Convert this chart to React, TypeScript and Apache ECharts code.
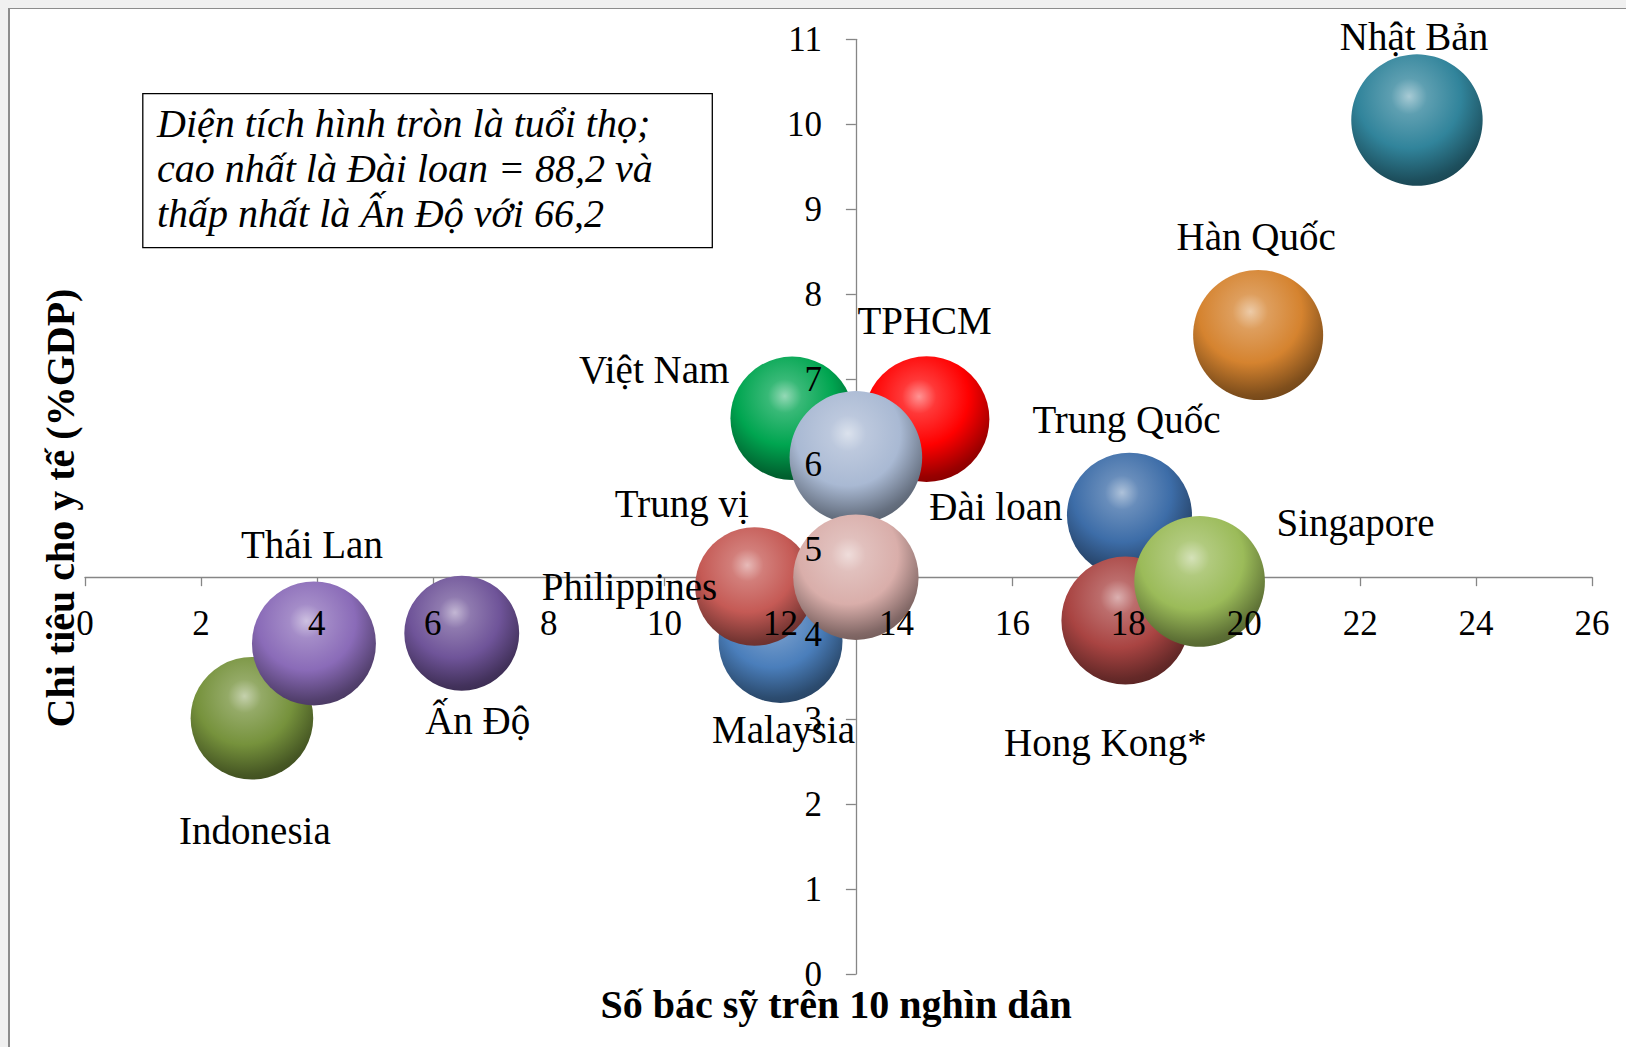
import { useEffect, useRef } from "react";
import * as echarts from "echarts";

// Health spending vs. doctor density; bubble area encodes life expectancy.
const countries = [
  "Indonesia",
  "Thái Lan",
  "Ấn Độ",
  "Malaysia",
  "Philippines",
  "Việt Nam",
  "TPHCM",
  "Đài loan",
  "Trung vị",
  "Trung Quốc",
  "Hong Kong*",
  "Singapore",
  "Hàn Quốc",
  "Nhật Bản",
];
// Doctors per 10,000 people
const doctorsPer10k = [2.88, 3.95, 6.5, 12.0, 11.55, 12.2, 14.52, 13.3, 13.3, 18.02, 17.95, 19.23, 20.24, 22.98];
// Health spending, % of GDP
const healthSpendPctGdp = [3.01, 3.89, 4.01, 3.92, 4.56, 6.54, 6.53, 6.08, 4.67, 5.4, 4.16, 4.62, 7.52, 10.05];
// Life expectancy (years) -> bubble area
const lifeExpectancy = [75.4, 77.1, 66.2, 77.1, 70.6, 76.4, 79.1, 88.2, 78.9, 78.4, 82.2, 85.6, 84.8, 86.6];

const baseColors = [
  "#76923c",
  "#8a6bb8",
  "#6f5499",
  "#4a7ebb",
  "#c55a55",
  "#00a550",
  "#ff0000",
  "#a9b9d3",
  "#d9aeaa",
  "#3d6da8",
  "#a94442",
  "#9bbb59",
  "#d5832f",
  "#31849b",
];

// Label placement relative to each bubble centre (px)
const labelOffsets = [
  [3, 112],
  [-2, -99],
  [16, 87],
  [3, 89],
  [-125, 0],
  [-138, -49],
  [-2, -99],
  [140, 49],
  [-174, -74],
  [-3, -96],
  [-20, 122],
  [156, -59],
  [-2, -99],
  [-3, -84],
];

const xTickMin = 0;
const xTickMax = 26;
const xTickStep = 2;
const yTickMin = 0;
const yTickMax = 11;
const yTickStep = 1;

const xTitle = "Số bác sỹ trên 10 nghìn dân";
const yTitle = "Chi tiêu cho y tế (%GDP)";
const noteLines = [
  "Diện tích hình tròn là tuổi thọ;",
  "cao nhất là Đài loan = 88,2 và",
  "thấp nhất là Ấn Độ với 66,2",
];

const MEDIAN_INDEX = 8;
const SERIF = '"Liberation Serif", "Times New Roman", serif';
const AXIS_GREY = "#868686";
const MAX_DIAMETER = 132.6;

const CHART_W = 1616;
const CHART_H = 1038;
const GRID = { left: 75, right: 34, top: 30.3, bottom: 73 };

function mix(hex: string, target: string, t: number): string {
  const p = (h: string) => [
    parseInt(h.slice(1, 3), 16),
    parseInt(h.slice(3, 5), 16),
    parseInt(h.slice(5, 7), 16),
  ];
  const a = p(hex);
  const b = p(target);
  const c = a.map((v, i) => Math.round(v + (b[i] - v) * t));
  return `rgb(${c[0]},${c[1]},${c[2]})`;
}

// Glossy sphere shading: bright spot upper-left, dark rim
function sphere(hex: string) {
  return new echarts.graphic.RadialGradient(0.44, 0.32, 0.76, [
    { offset: 0, color: mix(hex, "#ffffff", 0.58) },
    { offset: 0.18, color: mix(hex, "#ffffff", 0.22) },
    { offset: 0.52, color: hex },
    { offset: 0.84, color: mix(hex, "#000000", 0.4) },
    { offset: 1, color: mix(hex, "#000000", 0.52) },
  ]);
}

export default function App() {
  const ref = useRef<HTMLDivElement>(null);

  useEffect(() => {
    if (!ref.current) return;
    const chart = echarts.init(ref.current, undefined, { renderer: "svg" });

    const crossX = doctorsPer10k[MEDIAN_INDEX];
    const crossY = healthSpendPctGdp[MEDIAN_INDEX];
    const maxLife = Math.max(...lifeExpectancy);

    // Label-only axes are shifted onto the crossing point of the axis lines
    const gridW = CHART_W - GRID.left - GRID.right;
    const gridH = CHART_H - GRID.top - GRID.bottom;
    const xLabelOffset = -((crossY - yTickMin) / (yTickMax - yTickMin)) * gridH;
    const yLabelOffset = -((crossX - xTickMin) / (xTickMax - xTickMin)) * gridW;

    const bubbleData = countries.map((name, i) => ({
      name,
      value: [doctorsPer10k[i], healthSpendPctGdp[i], lifeExpectancy[i]],
      itemStyle: { color: sphere(baseColors[i]), opacity: 1 },
    }));

    const labelData = countries.map((name, i) => ({
      name,
      value: [doctorsPer10k[i], healthSpendPctGdp[i]],
      label: { offset: labelOffsets[i] },
    }));

    const tickFont = { fontFamily: SERIF, fontSize: 35, color: "#000" };

    chart.setOption({
      animation: false,
      backgroundColor: "#ffffff",
      grid: GRID,
      xAxis: [
        {
          type: "value",
          min: xTickMin,
          max: xTickMax,
          interval: xTickStep,
          position: "bottom",
          z: 0,
          axisLine: {
            show: true,
            onZero: true,
            onZeroAxisIndex: 1,
            lineStyle: { color: AXIS_GREY, width: 1.3 },
          },
          axisTick: { show: true, length: 9, lineStyle: { color: AXIS_GREY, width: 1.3 } },
          axisLabel: { show: false },
          splitLine: { show: false },
        },
        {
          type: "value",
          min: -crossX,
          max: xTickMax - crossX,
          position: "top",
          show: false,
          splitLine: { show: false },
        },
        {
          type: "value",
          min: xTickMin,
          max: xTickMax,
          interval: xTickStep,
          position: "bottom",
          offset: xLabelOffset,
          z: 10,
          axisLine: { show: false, onZero: false },
          axisTick: { show: false },
          axisLabel: { show: true, margin: 29, ...tickFont },
          splitLine: { show: false },
        },
      ],
      yAxis: [
        {
          type: "value",
          min: yTickMin,
          max: yTickMax,
          interval: yTickStep,
          position: "left",
          z: 0,
          axisLine: {
            show: true,
            onZero: true,
            onZeroAxisIndex: 1,
            lineStyle: { color: AXIS_GREY, width: 1.3 },
          },
          axisTick: { show: true, length: 10, lineStyle: { color: AXIS_GREY, width: 1.3 } },
          axisLabel: { show: false },
          splitLine: { show: false },
        },
        {
          type: "value",
          min: -crossY,
          max: yTickMax - crossY,
          position: "right",
          show: false,
          splitLine: { show: false },
        },
        {
          type: "value",
          min: yTickMin,
          max: yTickMax,
          interval: yTickStep,
          position: "left",
          offset: yLabelOffset,
          z: 10,
          axisLine: { show: false, onZero: false },
          axisTick: { show: false },
          axisLabel: { show: true, margin: 34, ...tickFont },
          splitLine: { show: false },
        },
      ],
      series: [
        {
          type: "scatter",
          xAxisIndex: 0,
          yAxisIndex: 0,
          z: 2,
          silent: true,
          clip: false,
          data: bubbleData,
          symbolSize: (v: number[]) => MAX_DIAMETER * Math.sqrt(v[2] / maxLife),
          itemStyle: { opacity: 1 },
          label: { show: false },
        },
        {
          type: "scatter",
          xAxisIndex: 0,
          yAxisIndex: 0,
          z: 5,
          silent: true,
          clip: false,
          data: labelData,
          symbolSize: 1,
          itemStyle: { color: "rgba(0,0,0,0)", opacity: 1 },
          label: {
            show: true,
            position: "inside",
            formatter: (p: any) => p.name,
            fontFamily: SERIF,
            fontSize: 39,
            color: "#000",
          },
        },
      ],
      graphic: [
        {
          type: "text",
          z: 20,
          x: 826,
          y: 995,
          style: {
            text: xTitle,
            fontFamily: SERIF,
            fontWeight: "bold",
            fontSize: 40,
            fill: "#000",
            align: "center",
            verticalAlign: "middle",
          },
        },
        {
          type: "text",
          z: 20,
          x: 50.7,
          y: 499,
          rotation: Math.PI / 2,
          style: {
            text: yTitle,
            fontFamily: SERIF,
            fontWeight: "bold",
            fontSize: 40,
            fill: "#000",
            align: "center",
            verticalAlign: "middle",
          },
        },
        {
          type: "rect",
          z: 20,
          shape: { x: 132.8, y: 84.7, width: 569.5, height: 154 },
          style: { fill: "#ffffff", stroke: "#000000", lineWidth: 1.3 },
        },
        ...noteLines.map((line, i) => ({
          type: "text",
          z: 21,
          x: 147,
          y: 114.5 + i * 45,
          style: {
            text: line,
            fontFamily: SERIF,
            fontStyle: "italic",
            fontSize: 40,
            fill: "#000",
            align: "left",
            verticalAlign: "middle",
          },
        })),
      ],
    });

    return () => chart.dispose();
  }, []);

  return (
    <div
      style={{
        position: "fixed",
        left: 0,
        top: 0,
        width: "100vw",
        height: "100vh",
        overflow: "hidden",
        background: "#f0f0f0",
      }}
    >
      <div
        style={{
          position: "absolute",
          left: 8,
          top: 8,
          borderLeft: "2px solid #8c8c8c",
          borderTop: "1px solid #8c8c8c",
          background: "#ffffff",
        }}
      >
        <div ref={ref} style={{ width: CHART_W, height: CHART_H }} />
      </div>
    </div>
  );
}
